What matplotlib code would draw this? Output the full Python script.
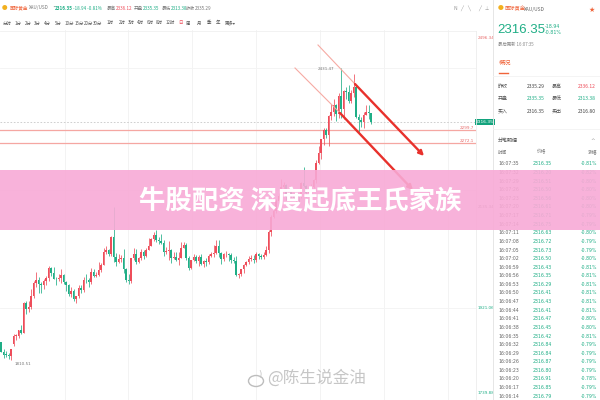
import matplotlib
matplotlib.use('Agg')
import matplotlib.pyplot as plt
from matplotlib.patches import Rectangle, Ellipse
import matplotlib.transforms as mtransforms

plt.rcParams['font.family'] = ['Noto Sans CJK SC', 'DejaVu Sans']

# ---------------- data: XAUUSD daily, 2023-10-02 .. 2024-04-30 ----------------
opens = [1848, 1828, 1822, 1821, 1820, 1844, 1861, 1861, 1874, 1868, 1932, 1919, 1923, 1947, 1974, 1981, 1973, 1970, 1979, 1985, 2006, 1996,
         1983, 1982, 1985, 1992, 1977, 1969, 1950, 1958, 1940, 1946, 1963, 1959, 1981, 1980, 1977, 1998, 1990, 1992, 2001, 2013, 2041, 2044,
         2036, 2072, 2029, 2019, 2025, 2028, 2004, 1981, 1979, 2027, 2036, 2019, 2027, 2040, 2031, 2045, 2053, 2067, 2077, 2065,
         2063, 2059, 2041, 2043, 2045, 2027, 2030, 2024, 2028, 2049, 2055, 2028, 2006, 2023, 2029, 2021, 2029, 2014, 2020, 2018, 2032, 2037,
         2039, 2054, 2039, 2025, 2035, 2035, 2034, 2024, 2020, 1992, 1993, 2004, 2013, 2018, 2025, 2025, 2024, 2036, 2031, 2030, 2034,
         2044, 2083, 2114, 2128, 2148, 2159, 2179, 2182, 2158, 2174, 2162, 2155, 2160, 2157, 2186, 2181, 2165, 2171, 2179, 2194,
         2230, 2251, 2280, 2300, 2290, 2329, 2339, 2352, 2333, 2372, 2344, 2383, 2381, 2361, 2379, 2392, 2327, 2322, 2316, 2332, 2337, 2335]
highs = [1849, 1833, 1830, 1825, 1834, 1865, 1866, 1875, 1885, 1933, 1937, 1936, 1962, 1979, 1997, 1987, 1976, 1983, 1990, 2010, 2009, 2008,
         1988, 1993, 2003, 1994, 1978, 1972, 1966, 1961, 1947, 1971, 1970, 1986, 1994, 1985, 2007, 2004, 1997, 2018, 2017, 2048, 2052, 2047,
         2075, 2135, 2038, 2036, 2034, 2047, 2006, 1994, 2028, 2048, 2047, 2030, 2047, 2044, 2049, 2071, 2070, 2083, 2088, 2073,
         2079, 2065, 2051, 2064, 2046, 2041, 2040, 2040, 2062, 2062, 2060, 2031, 2024, 2036, 2033, 2033, 2037, 2023, 2027, 2037, 2040, 2056,
         2065, 2065, 2040, 2039, 2043, 2038, 2038, 2030, 2032, 1995, 2005, 2015, 2022, 2031, 2034, 2034, 2041, 2038, 2037, 2040, 2053,
         2088, 2119, 2141, 2152, 2165, 2195, 2189, 2184, 2178, 2176, 2166, 2163, 2164, 2189, 2222, 2182, 2175, 2184, 2195, 2236,
         2265, 2281, 2305, 2304, 2331, 2354, 2365, 2354, 2378, 2431.47, 2384, 2392, 2395, 2385, 2418, 2396, 2333, 2328, 2338, 2352, 2353, 2336]
lows = [1827, 1815, 1816, 1813, 1810.51, 1840, 1853, 1858, 1866, 1867, 1908, 1912, 1920, 1943, 1965, 1953, 1954, 1962, 1970, 1978, 1990, 1982,
        1970, 1978, 1975, 1973, 1957, 1947, 1944, 1935, 1931, 1942, 1954, 1956, 1975, 1965, 1973, 1987, 1988, 1990, 1998, 2012, 2035, 2031,
        2032, 2018, 2010, 2017, 2018, 1995, 1976, 1973, 1974, 2024, 2014, 2016, 2024, 2026, 2029, 2044, 2052, 2064, 2062, 2058,
        2057, 2031, 2035, 2024, 2017, 2026, 2021, 2013, 2027, 2048, 2024, 2002, 2005, 2021, 2017, 2011, 2013, 2009, 2011, 2015, 2030, 2030,
        2036, 2030, 2015, 2022, 2030, 2022, 2016, 2016, 1990, 1984, 1989, 1996, 2011, 2015, 2021, 2017, 2019, 2025, 2025, 2025, 2031,
        2039, 2075, 2112, 2123, 2142, 2155, 2175, 2150, 2156, 2154, 2150, 2146, 2145, 2154, 2179, 2157, 2162, 2169, 2176, 2186,
        2228, 2239, 2268, 2283, 2266, 2322, 2329, 2319, 2326, 2325, 2323, 2366, 2358, 2357, 2369, 2326, 2292, 2307, 2305, 2331, 2323, 2313]
closes = [1828, 1822, 1821, 1820, 1833, 1861, 1861, 1874, 1868, 1932, 1919, 1923, 1947, 1974, 1981, 1973, 1970, 1979, 1985, 2006, 1996, 1983,
          1982, 1985, 1992, 1977, 1969, 1950, 1958, 1940, 1946, 1963, 1959, 1981, 1980, 1977, 1998, 1990, 1992, 2001, 2013, 2041, 2044, 2036,
          2072, 2029, 2019, 2025, 2028, 2004, 1981, 1979, 2027, 2036, 2019, 2027, 2040, 2031, 2045, 2053, 2067, 2077, 2065, 2063,
          2059, 2041, 2043, 2045, 2027, 2030, 2024, 2028, 2049, 2055, 2028, 2006, 2023, 2029, 2021, 2029, 2014, 2020, 2018, 2032, 2037, 2039,
          2054, 2039, 2025, 2035, 2035, 2034, 2024, 2020, 1992, 1993, 2004, 2013, 2018, 2025, 2025, 2024, 2036, 2031, 2030, 2034, 2044,
          2083, 2114, 2128, 2148, 2159, 2179, 2182, 2158, 2174, 2162, 2155, 2160, 2157, 2186, 2181, 2165, 2171, 2179, 2194, 2230,
          2251, 2280, 2300, 2290, 2329, 2339, 2352, 2333, 2372, 2344, 2383, 2381, 2361, 2379, 2392, 2327, 2322, 2316, 2332, 2337, 2335, 2316.35]

last_price = 2316.35
peak_price = 2431.47
low_price = 1810.51
level_lines = [2299.7, 2272.1]
level_labels = ["2299.7", "2272.1"]
axis_marks = [2496.34, 2135.34, 1921.06, 1739.88]
axis_mark_labels = ["2496.34", "2135.34", "1921.06", "1739.88"]

# channel lines (index, price): start of thin part, start of thick arrow, arrow head
upper_idx = [126.8, 141.6, 169.2]
upper_px = [2480.5, 2397.5, 2244.4]
lower_idx = [117.6, 135.6, 164.8]
lower_px = [2431.6, 2335.9, 2172.1]

header_items = ["国际黄金", "XAU/USD", "•", "2316.35", "-18.94 -0.81%", "最高", "2336.12",
                "开盘", "2335.35", "最低", "2313.38", "昨收", "2335.29"]

timeframes = ["分时", "1分", "2分", "3分", "4分", "5分", "10分", "15分", "20分", "30分", "1时", "2时",
              "3时", "4时", "6时", "8时", "12时", "日", "周", "月", "季", "年", "更多▾"]
active_tf = "日"

detail_times = ["16:07:35", "16:07:32", "16:07:29", "16:07:26", "16:07:23", "16:07:20", "16:07:17",
                "16:07:14", "16:07:11", "16:07:08", "16:07:05", "16:07:02", "16:06:59", "16:06:56",
                "16:06:53", "16:06:50", "16:06:47", "16:06:44", "16:06:41", "16:06:38", "16:06:35",
                "16:06:32", "16:06:29", "16:06:26", "16:06:23", "16:06:20", "16:06:17", "16:06:14"]
detail_prices = ["2316.35", "2316.20", "2316.51", "2316.50", "2316.56", "2316.61", "2316.71",
                 "2316.75", "2316.63", "2316.72", "2316.73", "2316.50", "2316.43", "2316.35",
                 "2316.29", "2316.41", "2316.43", "2316.41", "2316.47", "2316.45", "2316.42",
                 "2316.84", "2316.84", "2316.87", "2316.80", "2316.91", "2316.85", "2316.79"]
detail_changes = ["-0.81%", "-0.82%", "-0.80%", "-0.80%", "-0.80%", "-0.80%", "-0.79%",
                  "-0.79%", "-0.80%", "-0.79%", "-0.79%", "-0.80%", "-0.81%", "-0.81%",
                  "-0.81%", "-0.81%", "-0.81%", "-0.81%", "-0.80%", "-0.80%", "-0.81%",
                  "-0.79%", "-0.79%", "-0.79%", "-0.79%", "-0.78%", "-0.79%", "-0.79%"]

RED = '#ee4d5a'
GREEN = '#1fae86'
GRAY = '#777777'
ORANGE = '#f0643a'

fig = plt.figure(figsize=(6, 4), dpi=100)
fig.patch.set_facecolor('white')


def T(x, y, s, **kw):
    kw.setdefault('va', 'center')
    kw.setdefault('ha', 'left')
    return fig.text(x / 600, 1 - y / 400, s, **kw)


def HL(x0, x1, y, **kw):
    fig.add_artist(plt.Line2D([x0 / 600, x1 / 600], [1 - y / 400, 1 - y / 400], **kw))


def VL(x, y0, y1, **kw):
    fig.add_artist(plt.Line2D([x / 600, x / 600], [1 - y0 / 400, 1 - y1 / 400], **kw))


# ---------------- main candlestick chart ----------------
ax = fig.add_axes([0, 0, 476 / 600, 370 / 400])
ax.set_xlim(-0.4, 190)
ax.set_ylim(1725.4, 2512.4)
for s in ax.spines.values():
    s.set_visible(False)
ax.set_xticks([])
ax.set_yticks([])

for gx in [65, 128, 192, 256, 320, 384, 448]:
    ax.plot([gx / 476, gx / 476], [0, 1], transform=ax.transAxes, color='#f1f1f1', lw=0.6, zorder=0)
for gy in [2431.0, 2172.0, 1921.06]:
    ax.axhline(gy, color='#f3f3f3', lw=0.6, zorder=0)

for i, (o, h, l, c) in enumerate(zip(opens, highs, lows, closes)):
    col = RED if c >= o else GREEN
    ax.vlines(i, l, h, color=col, lw=0.55, zorder=2)
    body = max(abs(c - o), 1.6)
    ax.bar(i, body, bottom=min(o, c), width=0.62, color=col, lw=0, zorder=3)

# current price dashed line
ax.axhline(last_price, color='#c8c8c8', lw=0.6, ls=(0, (2, 2)), zorder=1)
# level lines
for lv, lb in zip(level_lines, level_labels):
    ax.axhline(lv, color='#f5a7a2', lw=0.9, zorder=1)
    ax.text(0.995, lv + 4, lb, transform=mtransforms.blended_transform_factory(ax.transAxes, ax.transData),
            ha='right', va='center', fontsize=3, color='#e86a6a', family='DejaVu Sans')

# channel lines
ax.plot(upper_idx[:2], upper_px[:2], color='#f6aaa3', lw=0.8, zorder=4)
ax.plot(lower_idx[:2], lower_px[:2], color='#f6aaa3', lw=0.8, zorder=4)
for xs, ys in [(upper_idx, upper_px), (lower_idx, lower_px)]:
    ax.annotate('', xy=(xs[2], ys[2]), xytext=(xs[1], ys[1]),
                arrowprops=dict(arrowstyle='-|>', color='#e8312c', lw=1.7, mutation_scale=7,
                                shrinkA=0, shrinkB=0), zorder=5)

# peak / low labels
peak_i = highs.index(max(highs))
low_i = lows.index(min(lows))
ax.text(peak_i - 2.5, peak_price - 2, f"{peak_price:.2f}", ha='right', va='center', fontsize=3,
        color='#777777', family='DejaVu Sans')
ax.text(low_i + 1.5, low_price - 9, f"{low_price:.2f}", ha='left', va='center', fontsize=3,
        color='#777777', family='DejaVu Sans')

# right price axis marks
bt = mtransforms.blended_transform_factory(ax.transAxes, ax.transData)
mark_cols = ['#e86a6a', '#666666', GREEN, GREEN]
for v, lb, cc in zip(axis_marks, axis_mark_labels, mark_cols):
    ax.text(1.004, v, lb, transform=bt, ha='left', va='center', fontsize=3, color=cc,
            family='DejaVu Sans', clip_on=False)
ax.text(1.0, last_price, f"{last_price:.2f}", transform=bt, ha='left', va='center', fontsize=3.2,
        color='white', family='DejaVu Sans', clip_on=False,
        bbox=dict(boxstyle='square,pad=0.25', facecolor='#13a37d', edgecolor='none'))

# ---------------- header (top-left) ----------------
T(5, 8, "●", fontsize=4, color='#f2b01e', ha='center')
hx = [10, 29, 51, 55, 73, 107, 116, 134, 143, 162, 171, 186, 195]
hcol = [ORANGE, GRAY, GRAY, GREEN, GREEN, GRAY, RED, GRAY, GREEN, GRAY, GREEN, GRAY, GRAY]
for x, s, c in zip(hx, header_items, hcol):
    T(x, 8, s, fontsize=3.3, color=c, weight=('bold' if s == "2316.35" else 'normal'))

tf_x = [7, 18, 28, 37, 47, 58, 69, 79, 88, 98, 110, 122, 131, 140, 150, 159, 170, 180, 188, 199, 209, 218, 230]
for x, lb in zip(tf_x, timeframes):
    T(x, 23, lb, fontsize=3.2, color=(RED if lb == active_tf else '#555555'), ha='center')
HL(0, 476, 31, color='#f0f0f0', lw=0.6)

# toolbar icons (top middle-right)
for x, g in zip([455, 462, 469, 480, 487], ["N", "╱", "╲", "╱", "⊥"]):
    T(x, 8, g, fontsize=3.4, color='#999999', ha='center', family='DejaVu Sans')

VL(476, 31, 400, color='#ececec', lw=0.6)
VL(493, 0, 400, color='#e6e6e6', lw=0.7)

# ---------------- right info panel ----------------
T(501, 9, "●", fontsize=4.2, color='#f2b01e', ha='center')
T(505, 9, "国际黄金", fontsize=3.8, color=ORANGE)
T(524, 9, "XAU/USD", fontsize=3.5, color='#666666')
T(592, 10, "★", fontsize=5, color=ORANGE, ha='center', family='DejaVu Sans')
T(497, 30, "2316.35", fontsize=9.5, color=GREEN, family=['Liberation Sans', 'DejaVu Sans'])
T(545, 26, "-18.94", fontsize=3.4, color=GREEN, family='DejaVu Sans')
T(545, 33, "-0.81%", fontsize=3.4, color=GREEN, family='DejaVu Sans')
T(498, 44, "最后更新 16:07:35", fontsize=3.2, color='#888888')
T(499, 63, "概况", fontsize=4.5, color=ORANGE)
HL(499, 508, 73, color=ORANGE, lw=1.0)
HL(493, 600, 76, color='#f2f2f2', lw=0.6)

rows = [("昨收", "2335.29", '#444444', "最高", "2336.12", RED),
        ("开盘", "2335.35", GREEN, "最低", "2313.38", GREEN),
        ("买入", "2316.35", '#444444', "卖出", "2316.80", '#444444')]
for k, (a, av, ac, b, bv, bc) in enumerate(rows):
    y = 86 + k * 12.5
    T(498, y, a, fontsize=3.6, color='#555555')
    T(527, y, av, fontsize=3.6, color=ac)
    T(552, y, b, fontsize=3.6, color='#555555')
    T(578, y, bv, fontsize=3.6, color=bc)
HL(493, 600, 129, color='#f2f2f2', lw=0.6)

T(498, 140, "分笔明细", fontsize=3.6, color='#444444')
T(593, 140, "^", fontsize=4, color='#999999', ha='center', family='DejaVu Sans')
T(498, 152, "时间", fontsize=3.4, color='#777777')
T(542, 152, "价格", fontsize=3.4, color='#777777', ha='center')
T(597, 152, "涨幅", fontsize=3.4, color='#777777', ha='right')
for k, (tm, pr, ch) in enumerate(zip(detail_times, detail_prices, detail_changes)):
    y = 164 + k * 8.6
    T(498, y, tm, fontsize=3.3, color='#666666', family='DejaVu Sans')
    T(542, y, pr, fontsize=3.3, color=GREEN, ha='center', family='DejaVu Sans')
    T(597, y, ch, fontsize=3.3, color=GREEN, ha='right', family='DejaVu Sans')

# ---------------- watermark ----------------
fig.add_artist(Ellipse((256 / 600, 1 - 381 / 400), 15 / 600, 11 / 400, fill=False,
                       edgecolor='#bdbdbd', lw=1.0, transform=fig.transFigure))
T(258, 375, ")", fontsize=6, color='#c4c4c4', family='DejaVu Sans')
T(267, 378, "@陈生说金油", fontsize=12, color='#c0c0c0', alpha=0.9)

# ---------------- pink banner ----------------
fig.add_artist(Rectangle((0, 1 - 230 / 400), 1, 60 / 400, transform=fig.transFigure,
                         facecolor='#f8aad6', edgecolor='none', alpha=0.9, zorder=20))
T(300, 201, "牛股配资 深度起底王氏家族", fontsize=19, color='white', weight='bold',
  ha='center', zorder=21)

fig.savefig('out.png', dpi=100)
